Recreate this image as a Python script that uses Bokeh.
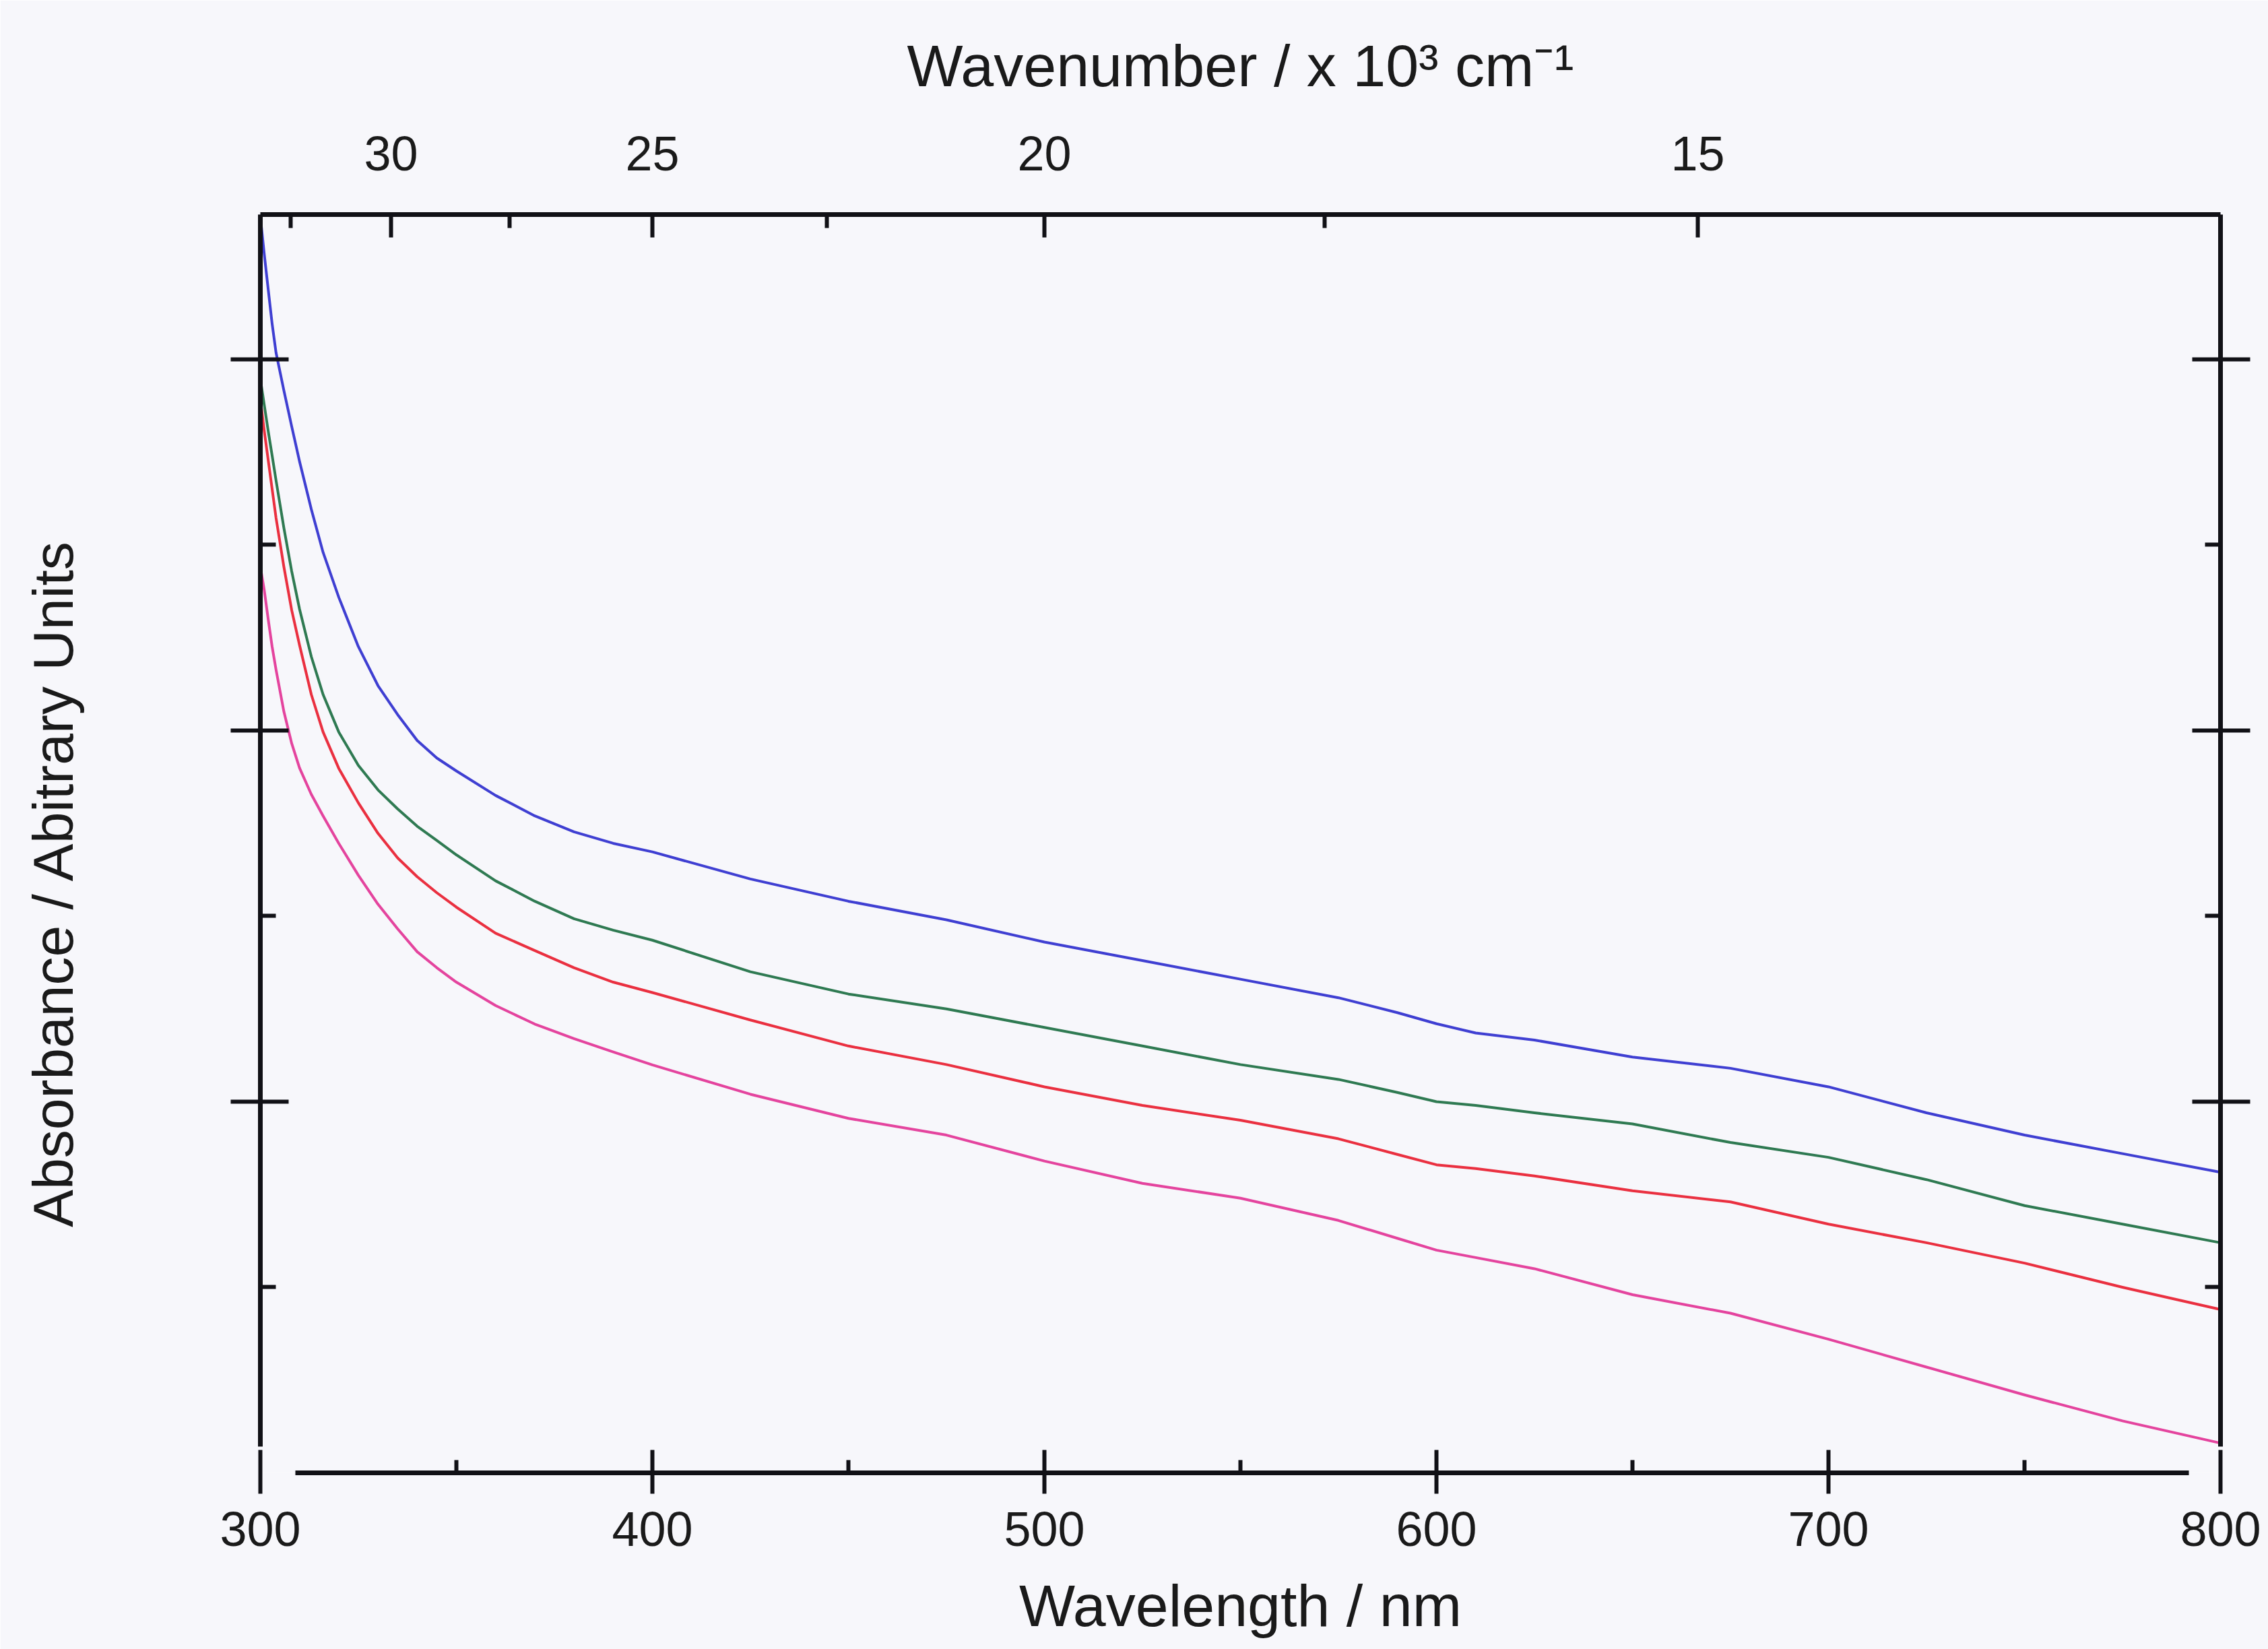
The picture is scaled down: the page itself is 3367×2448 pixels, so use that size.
from bokeh.plotting import figure
from bokeh.models import LinearAxis, FixedTicker, CustomJSTickFormatter, Range1d
from bokeh.embed import file_html
from bokeh.resources import INLINE

# ---- data ----
wavelength_nm = [300, 301, 302, 303, 304, 306, 308, 310, 313, 316, 320, 325, 330, 335, 340, 345,
                 350, 360, 370, 380, 390, 400, 425, 450, 475, 500, 525, 550, 575, 590, 600, 610,
                 625, 650, 675, 700, 725, 750, 775, 800]
absorb_blue = [3.384, 3.283, 3.189, 3.096, 3.018, 2.916, 2.819, 2.725, 2.596, 2.480, 2.359, 2.226,
               2.121, 2.043, 1.973, 1.926, 1.891, 1.825, 1.770, 1.727, 1.696, 1.673, 1.60, 1.54,
               1.49, 1.43, 1.38, 1.33, 1.28, 1.24, 1.21, 1.185, 1.166, 1.12, 1.09, 1.04, 0.97,
               0.91, 0.86, 0.81]
absorb_green = [2.947, 2.877, 2.807, 2.741, 2.674, 2.546, 2.429, 2.327, 2.199, 2.097, 1.996, 1.906,
                1.840, 1.789, 1.742, 1.704, 1.665, 1.595, 1.540, 1.493, 1.462, 1.435, 1.35, 1.29,
                1.25, 1.20, 1.15, 1.10, 1.06, 1.025, 1.00, 0.99, 0.97, 0.94, 0.89, 0.85, 0.79,
                0.72, 0.67, 0.62]
absorb_red = [2.893, 2.807, 2.729, 2.651, 2.573, 2.441, 2.324, 2.230, 2.097, 1.996, 1.898, 1.805,
              1.723, 1.657, 1.606, 1.563, 1.524, 1.454, 1.407, 1.361, 1.322, 1.294, 1.22, 1.15,
              1.10, 1.04, 0.99, 0.95, 0.90, 0.858, 0.83, 0.82, 0.80, 0.76, 0.73, 0.67, 0.62,
              0.565, 0.50, 0.44]
absorb_pink = [2.441, 2.378, 2.300, 2.226, 2.164, 2.051, 1.965, 1.899, 1.828, 1.770, 1.696, 1.610,
               1.532, 1.466, 1.404, 1.361, 1.322, 1.259, 1.209, 1.170, 1.134, 1.099, 1.02, 0.955,
               0.91, 0.84, 0.78, 0.74, 0.68, 0.632, 0.60, 0.58, 0.55, 0.48, 0.43, 0.36, 0.285,
               0.21, 0.14, 0.08]

wl_major = [300, 400, 500, 600, 700, 800]
wl_minor = [350, 450, 550, 650, 750]
wn_major = [30, 25, 20, 15]          # x 10^3 cm^-1
wn_minor = [32.5, 27.5, 22.5, 17.5]
abs_major = [1, 2, 3]
abs_minor = [0.5, 1.5, 2.5]

series = [
    (absorb_blue, "#3f3fd2"),
    (absorb_green, "#2f7a52"),
    (absorb_red, "#ea3040"),
    (absorb_pink, "#e4449e"),
]

BG = "#f7f7fb"
INK = "#111116"
FONT = "Liberation Sans"
Y_END = 3.39
Y_AX_LOW = 0.07
X_LINE_BOUNDS = (309, 792)   # extent of the drawn bottom axis line (gaps at the corners)

p = figure(width=3367, height=2448, x_range=Range1d(300, 800), y_range=Range1d(0, Y_END),
           output_backend="svg", toolbar_location=None,
           x_axis_location=None, y_axis_location=None,
           min_border_left=386, min_border_right=71, min_border_top=318, min_border_bottom=262,
           background_fill_color=BG, border_fill_color=BG)
p.outline_line_color = None
p.grid.grid_line_color = None

for ys, col in series:
    p.line(wavelength_nm, ys, line_color=col, line_width=4, line_join="round")


def style(ax, tick_in, tick_out, minor_in, minor_out):
    ax.axis_line_color = INK
    ax.axis_line_width = 7
    ax.major_tick_line_color = INK
    ax.major_tick_line_width = 6
    ax.minor_tick_line_color = INK
    ax.minor_tick_line_width = 6
    ax.major_tick_in = tick_in
    ax.major_tick_out = tick_out
    ax.minor_tick_in = minor_in
    ax.minor_tick_out = minor_out
    ax.major_label_text_font = FONT
    ax.major_label_text_font_size = "72px"
    ax.major_label_text_color = "#1a1a1a"
    ax.axis_label_text_font = FONT
    ax.axis_label_text_font_size = "88px"
    ax.axis_label_text_font_style = "normal"
    ax.axis_label_text_color = "#1a1a1a"


# bottom axis line only (innermost, zero size)
xline = LinearAxis(ticker=FixedTicker(ticks=[], minor_ticks=[]), bounds=X_LINE_BOUNDS)
style(xline, 0, 0, 0, 0)
xline.major_label_standoff = 0
xline.major_label_text_font_size = "1px"
xline.major_label_text_color = None
p.add_layout(xline, "below")

# bottom ticks + labels
xb = LinearAxis(ticker=FixedTicker(ticks=wl_major, minor_ticks=wl_minor),
                axis_label="Wavelength / nm", bounds=(300, 800))
style(xb, 34, 31, 19, 0)
xb.axis_line_color = None
xb.major_label_standoff = 27
xb.axis_label_standoff = 36
p.add_layout(xb, "below")

xt = LinearAxis(ticker=FixedTicker(ticks=[1e4 / v for v in wn_major],
                                   minor_ticks=[1e4 / v for v in wn_minor]),
                formatter=CustomJSTickFormatter(code="return Math.round(10000/tick).toString();"),
                axis_label="Wavenumber / x 10³ cm⁻¹", bounds=(300, 800))
style(xt, 34, 0, 20, 0)
xt.major_label_standoff = 66
xt.axis_label_standoff = 53
p.add_layout(xt, "above")

yl = LinearAxis(ticker=FixedTicker(ticks=abs_major, minor_ticks=abs_minor),
                axis_label="Absorbance / Abitrary Units\u00a0\u00a0\u00a0\u00a0\u00a0",
                bounds=(Y_AX_LOW, Y_END))
style(yl, 42, 44, 23, 0)
yl.major_label_text_font_size = "1px"
yl.major_label_text_color = None
yl.axis_label_text_font_size = "84px"
yl.axis_label_standoff = 217
p.add_layout(yl, "left")

yr = LinearAxis(ticker=FixedTicker(ticks=abs_major, minor_ticks=abs_minor),
                bounds=(Y_AX_LOW, Y_END))
style(yr, 42, 44, 23, 0)
yr.major_label_text_font_size = "1px"
yr.major_label_text_color = None
p.add_layout(yr, "right")

open("out.html", "w").write(file_html(p, INLINE))
